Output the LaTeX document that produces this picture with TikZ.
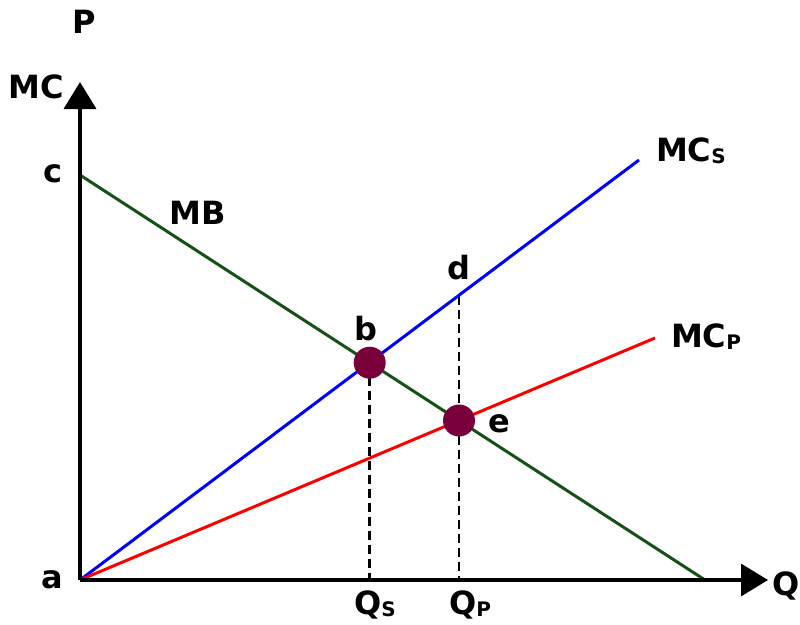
\documentclass[tikz,border=0pt]{standalone}
\usepackage{fontspec}
\setmainfont{DejaVu Sans}
\usetikzlibrary{arrows.meta}
\definecolor{mbgreen}{RGB}{22,82,22}
\definecolor{dotred}{RGB}{122,0,60}
\newcommand{\lowsub}[1]{\raisebox{-2pt}{\fontsize{20}{22}\selectfont #1}}
\tikzset{
  axis/.style={line width=3.5pt, -{Triangle[length=27pt,width=32pt]}},
  curve/.style={line width=3pt},
  guide/.style={line width=2.8pt, dash pattern=on 9pt off 5pt},
  dot/.style={circle, fill=dotred, minimum size=32pt, inner sep=0pt},
  lbl/.style={font=\fontsize{32}{36}\selectfont\bfseries, inner sep=0pt}
}

\begin{document}
\begin{tikzpicture}[x=1pt,y=-1pt]
\useasboundingbox (0,0) rectangle (800,624);
% points of the diagram
\coordinate (a) at (80,580);
\coordinate (ytop) at (80,82);
\coordinate (xend) at (768,580);
\coordinate (c) at (80,175);
\coordinate (mbend) at (705,580);
\coordinate (mcsend) at (639,160);
\coordinate (mcpend) at (655,338);
\coordinate (b) at (369.7,362.7);
\coordinate (e) at (459,420.5);
\coordinate (d) at (459,295.7);
\coordinate (qs) at (369.7,580);
\coordinate (qp) at (459,580);

% dashed guides
\draw[guide] (b) -- (qs);
\draw[guide] (d) -- (qp);

% curves
\draw[curve, mbgreen] (c) -- (mbend);
\draw[curve, blue] (a) -- (mcsend);
\draw[curve, red] (a) -- (mcpend);

% axes
\draw[axis] (a) -- (ytop);
\draw[axis] (a) -- (xend);

% equilibrium points
\node[dot] (bdot) at (b) {};
\node[dot] (edot) at (e) {};

% labels
\node[lbl] (plbl) at (84,22) {P};
\node[lbl] (mclbl) at (36,87) {MC};
\node[lbl] (clbl) at (53,174) {c};
\node[lbl] (albl) at (52,580) {a};
\node[lbl] (qlbl) at (786,586) {Q};
\node[lbl] (mblbl) at (198,213) {MB};
\node[lbl] (blbl) at (366,329) {b};
\node[lbl] (dlbl) at (459,268) {d};
\node[lbl] (elbl) at (499,424) {e};
\node[lbl] (qslbl) at (375,605) {Q\lowsub{S}};
\node[lbl] (qplbl) at (470,605) {Q\lowsub{P}};
\node[lbl] (mcslbl) at (691,151) {MC\lowsub{S}};
\node[lbl] (mcplbl) at (706,337) {MC\lowsub{P}};
\end{tikzpicture}
\end{document}
